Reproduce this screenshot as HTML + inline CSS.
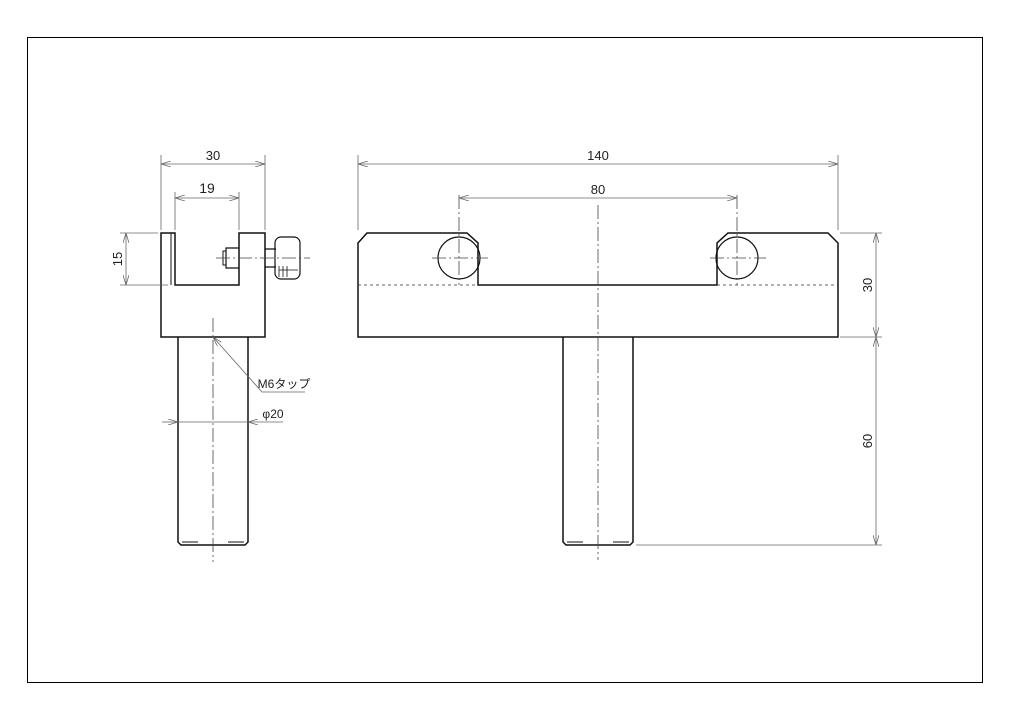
<!DOCTYPE html>
<html><head><meta charset="utf-8"><style>body{margin:0;background:#fff}svg{display:block}text{font-family:"Liberation Sans","Noto Sans CJK JP",sans-serif;fill:#222}</style></head><body>
<svg width="1024" height="724" viewBox="0 0 1024 724" xmlns="http://www.w3.org/2000/svg">
<defs>
<marker id="a" viewBox="0 0 10 6" refX="10" refY="3" markerWidth="10" markerHeight="6" orient="auto-start-reverse" markerUnits="userSpaceOnUse"><path d="M0,0 L10,3 L0,6" fill="none" stroke="#666" stroke-width="0.8"/></marker>
</defs>
<rect x="27.5" y="37.5" width="955" height="645" fill="none" stroke="#000" stroke-width="1"/>
<g fill="none" stroke="#111" stroke-width="1.5">
<path d="M161,233 H175 V285 H239 V233 H265 V337 H161 Z"/>
<line x1="171" y1="233" x2="171" y2="285" stroke-width="1"/>
<path d="M178,337 V542 L181,545 H245 L248,542 V337"/>
<line x1="182" y1="542" x2="198" y2="542" stroke-width="1"/>
<line x1="228" y1="542" x2="244" y2="542" stroke-width="1"/>
<path d="M239,248 H226 V268 H239" stroke-width="1.2"/>
<path d="M226,251 H223 V265 H226" stroke-width="1"/>
<path d="M265,249 H276 M265,267 H276" stroke-width="1.2"/>
<rect x="275" y="237" width="25" height="42" rx="6" stroke-width="1.2"/>
<path d="M279,266 V277 M283,266 V277 M287,266 V277 M279,270 H298" stroke-width="0.8"/>
<path d="M358,243 L367,233 H467 L478,243 V285 H717 V243 L728,233 H828 L838,243 V337 H358 Z"/>
<circle cx="459" cy="258" r="21" stroke-width="1.2"/>
<circle cx="737" cy="258" r="21" stroke-width="1.2"/>
<path d="M563,337 V542 L566,545 H630 L633,542 V337"/>
<line x1="567" y1="542" x2="583" y2="542" stroke-width="1"/>
<line x1="613" y1="542" x2="629" y2="542" stroke-width="1"/>
</g>
<g stroke="#333" stroke-width="0.8" fill="none" stroke-dasharray="3,3">
<line x1="358" y1="285" x2="478" y2="285"/>
<line x1="717" y1="285" x2="838" y2="285"/>
</g>
<g stroke="#444" stroke-width="0.8" fill="none" stroke-dasharray="14,3,2,3">
<line x1="213" y1="318" x2="213" y2="562"/>
<line x1="216" y1="258" x2="310" y2="258"/>
<line x1="598" y1="205" x2="598" y2="560"/>
<line x1="459" y1="195" x2="459" y2="285"/>
<line x1="737" y1="195" x2="737" y2="285"/>
<line x1="432" y1="258" x2="488" y2="258"/>
<line x1="710" y1="258" x2="766" y2="258"/>
</g>
<g stroke="#666" stroke-width="0.8" fill="none">
<line x1="161" y1="155" x2="161" y2="230"/><line x1="265" y1="155" x2="265" y2="230"/>
<line x1="161" y1="164" x2="265" y2="164" marker-start="url(#a)" marker-end="url(#a)"/>
<line x1="175" y1="192" x2="175" y2="230"/><line x1="239" y1="192" x2="239" y2="230"/>
<line x1="175" y1="198" x2="239" y2="198" marker-start="url(#a)" marker-end="url(#a)"/>
<line x1="120" y1="233" x2="158" y2="233"/><line x1="120" y1="285" x2="168" y2="285"/>
<line x1="126" y1="233" x2="126" y2="285" marker-start="url(#a)" marker-end="url(#a)"/>
<line x1="358" y1="155" x2="358" y2="230"/><line x1="838" y1="155" x2="838" y2="230"/>
<line x1="358" y1="164" x2="838" y2="164" marker-start="url(#a)" marker-end="url(#a)"/>
<line x1="459" y1="198" x2="737" y2="198" marker-start="url(#a)" marker-end="url(#a)"/>
<line x1="840" y1="233" x2="882" y2="233"/><line x1="840" y1="337" x2="882" y2="337"/><line x1="636" y1="545" x2="882" y2="545"/>
<line x1="876" y1="233" x2="876" y2="337" marker-start="url(#a)" marker-end="url(#a)"/>
<line x1="876" y1="337" x2="876" y2="545" marker-start="url(#a)" marker-end="url(#a)"/>
<polyline points="213,337 262,392 305,392" marker-start="url(#a)"/>
<line x1="162" y1="422" x2="178" y2="422" marker-end="url(#a)"/>
<line x1="178" y1="422" x2="248" y2="422"/>
<line x1="283" y1="422" x2="248" y2="422" marker-end="url(#a)"/>
</g>
<g font-size="13" text-anchor="middle">
<text x="213" y="160">30</text>
<text x="207" y="193" font-size="14">19</text>
<text x="598" y="160">140</text>
<text x="598" y="194">80</text>
<text transform="translate(122,259) rotate(-90)">15</text>
<text transform="translate(872,285) rotate(-90)">30</text>
<text transform="translate(872,441) rotate(-90)">60</text>
<text x="284" y="388" font-size="12">M6タップ</text>
<text x="273" y="418" font-size="12">φ20</text>
</g>
</svg>
</body></html>
